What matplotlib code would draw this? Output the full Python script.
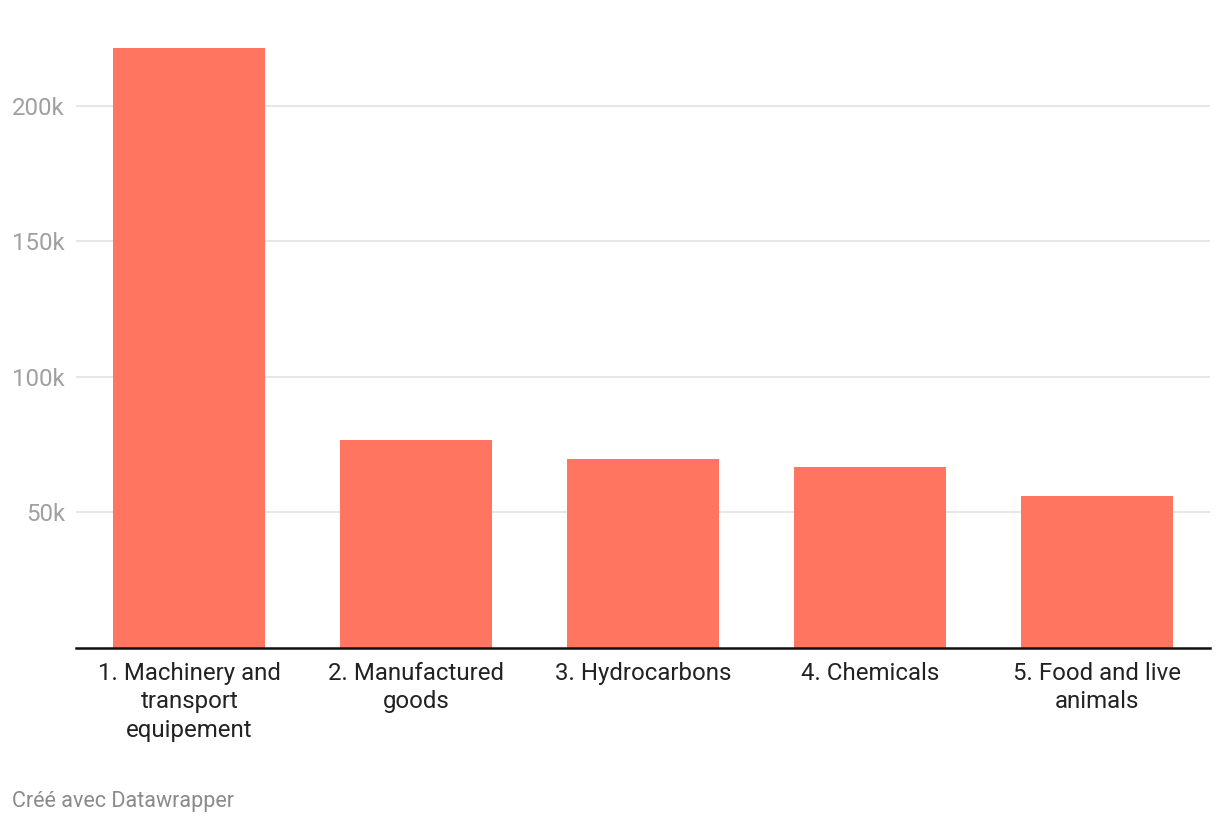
import matplotlib.pyplot as plt
from matplotlib.ticker import FuncFormatter

# Données
categories = ['1. Machinery and\ntransport\nequipement', '2. Manufactured\ngoods',
              '3. Hydrocarbons', '4. Chemicals', '5. Food and live\nanimals']
values = [221400, 76800, 69700, 66800, 56100]
yticks = [50000, 100000, 150000, 200000]

plt.rcParams['font.family'] = ['Roboto', 'DejaVu Sans']

fig = plt.figure(figsize=(12.2, 8.24), dpi=100)
ax = fig.add_axes([76 / 1220, 1 - 648 / 824, (1210 - 76) / 1220, (648 - 20) / 824])

x = range(len(categories))
ax.bar(x, values, width=0.67, color='#ff7560', zorder=2)

ax.set_xlim(-0.5, 4.5)
ax.set_ylim(0, 231700)
ax.set_yticks(yticks)
ax.yaxis.set_major_formatter(FuncFormatter(lambda v, p: f'{int(v / 1000)}k'))
ax.grid(axis='y', color='#e3e3e3', linewidth=1.2, zorder=0)

ax.set_xticks(list(x))
ax.set_xticklabels(categories, fontsize=17.3, color='#222222', linespacing=1.3)
ax.tick_params(axis='x', length=0, pad=10)
ax.tick_params(axis='y', length=0, pad=8, labelsize=17.3, labelcolor='#a0a0a0')

for s in ['top', 'right', 'left']:
    ax.spines[s].set_visible(False)
ax.spines['bottom'].set_color('#111111')
ax.spines['bottom'].set_linewidth(1.8)
ax.spines['bottom'].set_zorder(3)

fig.text(12 / 1220, 1 - 801 / 824, 'Créé avec Datawrapper', fontsize=15.5,
         color='#8a8a8a', va='center', ha='left')

fig.savefig('out.png', dpi=100)
